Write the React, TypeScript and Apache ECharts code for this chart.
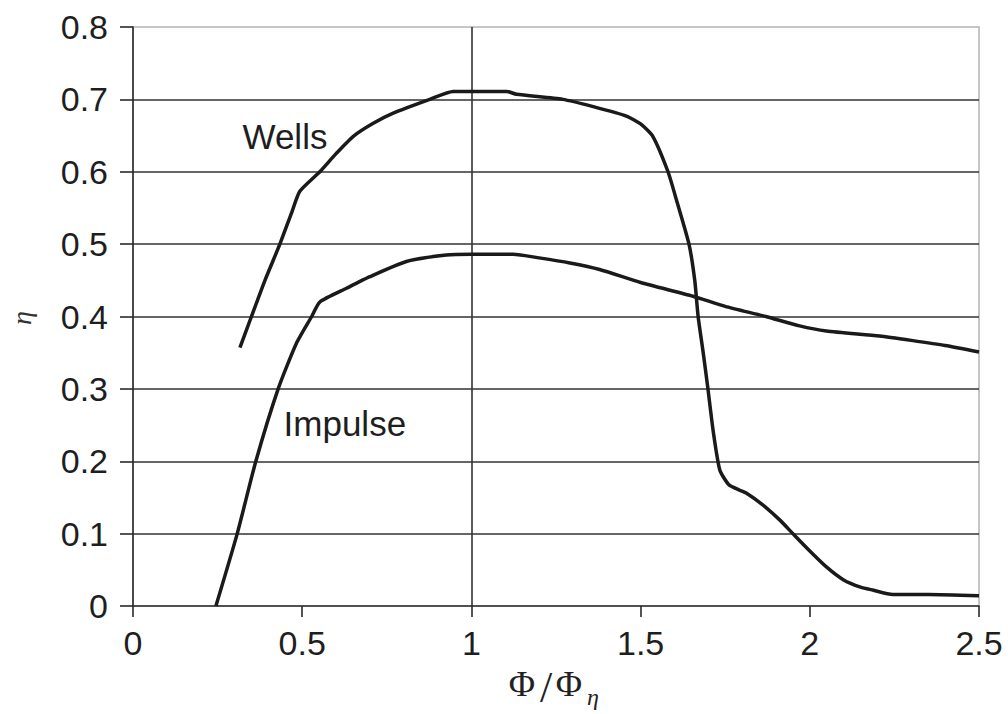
import React, { useEffect, useRef } from "react";
import * as echarts from "echarts";

// Turbine efficiency vs. normalised flow coefficient
const wellsPhi = [0.316, 0.35, 0.39, 0.434, 0.47, 0.493, 0.552, 0.6, 0.651, 0.71, 0.769, 0.877, 0.946, 1.0, 1.105, 1.133, 1.27, 1.36, 1.458, 1.5, 1.536, 1.581, 1.606, 1.643, 1.66, 1.67, 1.685, 1.699, 1.715, 1.734, 1.76, 1.793, 1.812, 1.86, 1.911, 1.95, 2.0, 2.049, 2.1, 2.15, 2.186, 2.245, 2.35, 2.5];
const wellsEta = [0.357, 0.4, 0.45, 0.5, 0.545, 0.573, 0.6, 0.625, 0.649, 0.667, 0.681, 0.7, 0.711, 0.711, 0.711, 0.707, 0.7, 0.69, 0.677, 0.666, 0.649, 0.6, 0.561, 0.5, 0.45, 0.4, 0.35, 0.3, 0.24, 0.188, 0.168, 0.16, 0.156, 0.14, 0.119, 0.1, 0.076, 0.054, 0.036, 0.026, 0.022, 0.016, 0.016, 0.014];

const impulsePhi = [0.245, 0.308, 0.363, 0.429, 0.483, 0.528, 0.552, 0.631, 0.7, 0.808, 0.926, 1.0, 1.123, 1.2, 1.291, 1.379, 1.5, 1.655, 1.75, 1.87, 1.97, 2.049, 2.206, 2.3, 2.4, 2.5];
const impulseEta = [0.0, 0.1, 0.2, 0.3, 0.363, 0.4, 0.42, 0.439, 0.455, 0.476, 0.485, 0.486, 0.486, 0.481, 0.474, 0.465, 0.447, 0.428, 0.414, 0.4, 0.387, 0.38, 0.373, 0.367, 0.36, 0.351];

// Curve captions, placed in data coordinates
const wellsCaption = { text: "Wells", phi: 0.449, eta: 0.649 };
const impulseCaption = { text: "Impulse", phi: 0.626, eta: 0.252 };

const xTicks = { min: 0, max: 2.5, step: 0.5 };
const yTicks = { min: 0, max: 0.8, step: 0.1 };

const pair = (xs: number[], ys: number[]) => xs.map((x, i) => [x, ys[i]]);

const SANS = "'Liberation Sans', Arial, Helvetica, sans-serif";
const SERIF = "'Liberation Serif', 'Times New Roman', serif";
const INK = "#1a1a1a";
const GRID_DARK = "#333333";
const GRID_LIGHT = "#b4b4b4";

const caption = (c: { text: string; phi: number; eta: number }) => ({
  symbol: "circle",
  symbolSize: 0,
  silent: true,
  data: [
    {
      coord: [c.phi, c.eta],
      value: c.text,
      label: {
        show: true,
        position: "inside",
        formatter: c.text,
        color: "#1e1e1e",
        fontFamily: SANS,
        fontSize: 35,
      },
    },
  ],
});

export default function App() {
  const ref = useRef<HTMLDivElement>(null);

  useEffect(() => {
    if (!ref.current) return;
    const chart = echarts.init(ref.current, undefined, { renderer: "svg" });
    chart.setOption({
      animation: false,
      backgroundColor: "#ffffff",
      grid: {
        left: 133,
        right: 29,
        top: 27,
        bottom: 108,
        show: true,
        borderColor: GRID_LIGHT,
        borderWidth: 1.5,
        backgroundColor: "transparent",
      },
      xAxis: {
        type: "value",
        min: xTicks.min,
        max: xTicks.max,
        interval: xTicks.step,
        axisLine: { show: true, onZero: false, lineStyle: { color: "#2a2a2a", width: 1.6 } },
        axisTick: { show: true, length: 11, lineStyle: { color: "#2a2a2a", width: 1.6 } },
        axisLabel: {
          margin: 20,
          color: "#1e1e1e",
          fontFamily: SANS,
          fontSize: 34,
          formatter: (v: number) => String(v),
        },
        // only the line at 1 is drawn inside the plot
        splitLine: {
          show: true,
          showMinLine: true,
          showMaxLine: true,
          lineStyle: {
            color: ["transparent", "transparent", GRID_DARK, "transparent", "transparent", "transparent"],
            width: 1.6,
          },
        },
      },
      yAxis: {
        type: "value",
        min: yTicks.min,
        max: yTicks.max,
        interval: yTicks.step,
        axisLine: { show: true, onZero: false, lineStyle: { color: "#2a2a2a", width: 1.6 } },
        axisTick: { show: true, length: 13, lineStyle: { color: "#2a2a2a", width: 1.6 } },
        axisLabel: {
          margin: 25,
          color: "#1e1e1e",
          fontFamily: SANS,
          fontSize: 34,
          formatter: (v: number) => (v === 0 ? "0" : v.toFixed(1)),
        },
        splitLine: {
          show: true,
          showMinLine: false,
          showMaxLine: false,
          lineStyle: { color: GRID_DARK, width: 1.6 },
        },
      },
      series: [
        {
          name: "Wells",
          type: "line",
          data: pair(wellsPhi, wellsEta),
          showSymbol: false,
          smooth: 0.2,
          lineStyle: { color: INK, width: 3.5 },
          markPoint: caption(wellsCaption),
          z: 5,
        },
        {
          name: "Impulse",
          type: "line",
          data: pair(impulsePhi, impulseEta),
          showSymbol: false,
          smooth: 0.2,
          lineStyle: { color: INK, width: 3.5 },
          markPoint: caption(impulseCaption),
          z: 5,
        },
      ],
      graphic: [
        // y-axis title: eta, rotated
        {
          type: "text",
          x: 21,
          y: 318,
          rotation: Math.PI / 2,
          style: {
            text: "η",
            fontFamily: SERIF,
            fontStyle: "italic",
            fontSize: 28,
            fill: "#333",
            align: "center",
            verticalAlign: "middle",
          },
        },
        // x-axis title: Phi / Phi_eta
        {
          type: "group",
          children: [
            {
              type: "text",
              x: 522,
              y: 684,
              style: { text: "Φ", fontFamily: SERIF, fontSize: 36, fill: "#222", align: "center", verticalAlign: "middle" },
            },
            {
              type: "text",
              x: 546,
              y: 687,
              style: { text: "/", fontFamily: SERIF, fontSize: 44, fill: "#222", align: "center", verticalAlign: "middle" },
            },
            {
              type: "text",
              x: 569,
              y: 684,
              style: { text: "Φ", fontFamily: SERIF, fontSize: 36, fill: "#222", align: "center", verticalAlign: "middle" },
            },
            {
              type: "text",
              x: 593,
              y: 697,
              style: {
                text: "η",
                fontFamily: SERIF,
                fontStyle: "italic",
                fontSize: 24,
                fill: "#222",
                align: "center",
                verticalAlign: "middle",
              },
            },
          ],
        },
      ],
    });
    return () => chart.dispose();
  }, []);

  return (
    <div
      ref={ref}
      style={{ position: "absolute", left: 0, top: 0, width: 1008, height: 714, background: "#fff" }}
    />
  );
}
